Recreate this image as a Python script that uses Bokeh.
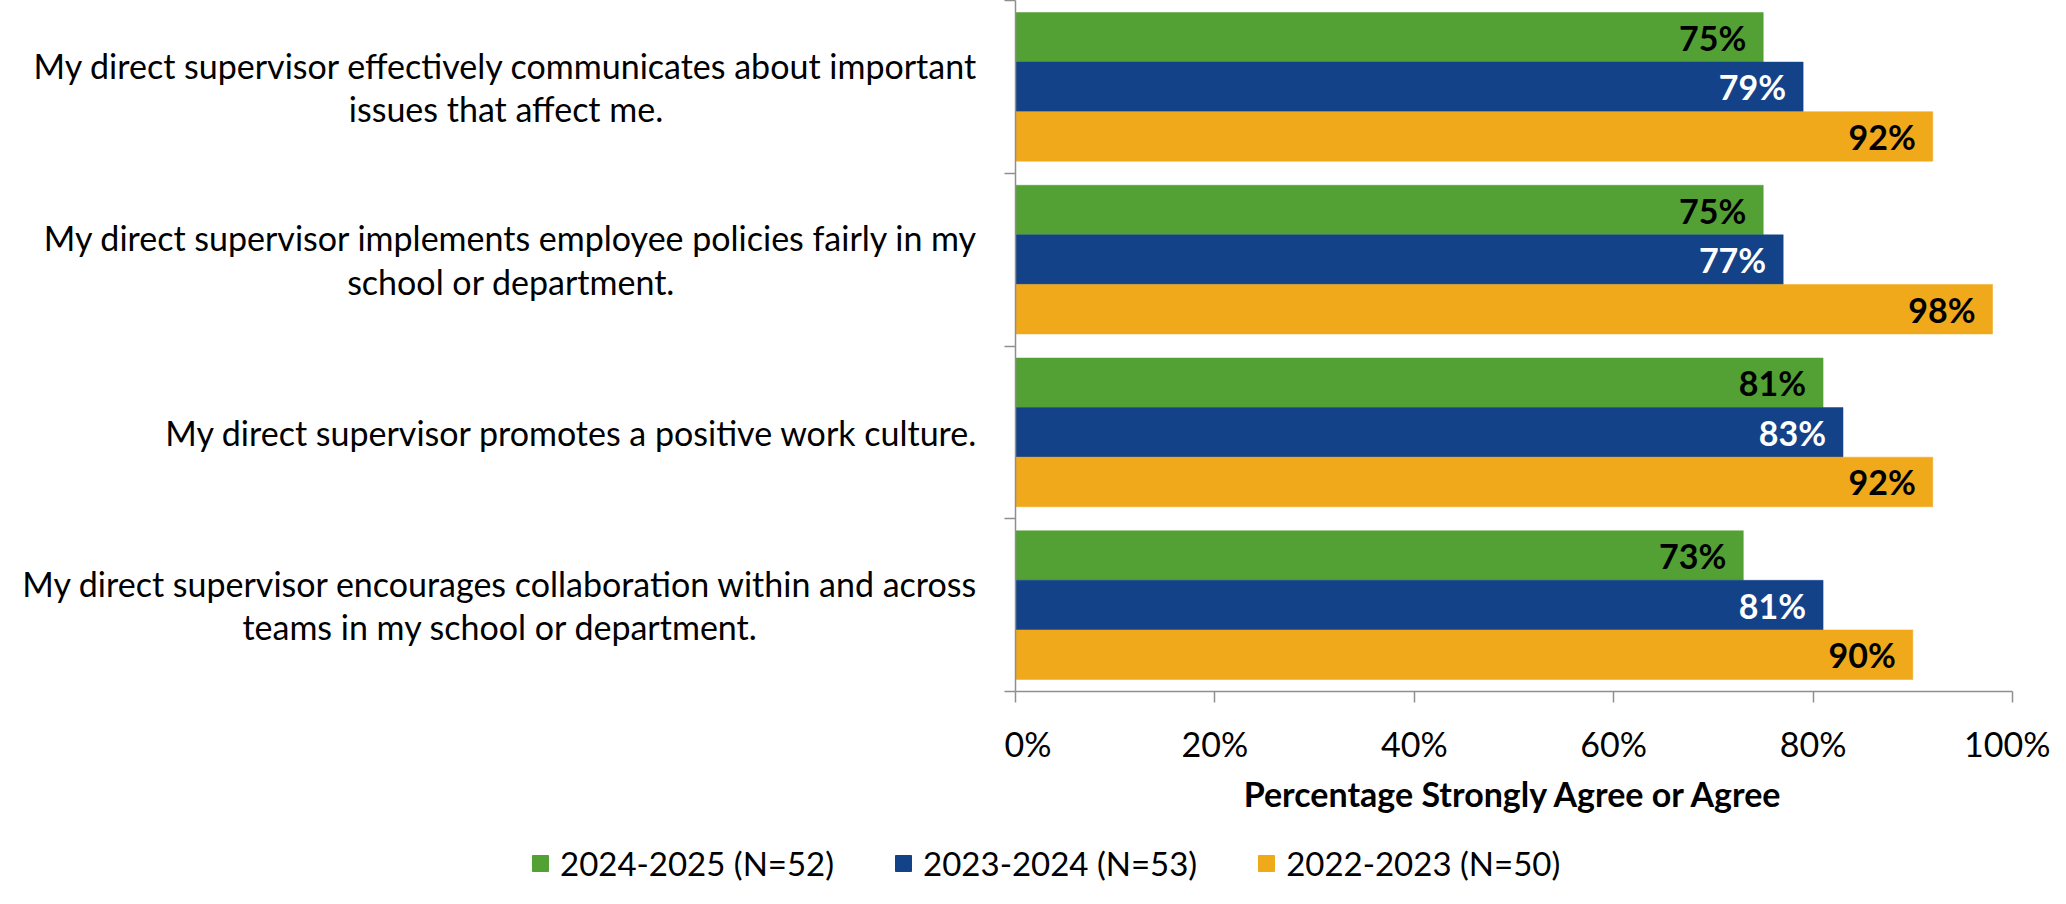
from bokeh.plotting import figure
from bokeh.layouts import row, column
from bokeh.models import (Range1d, FixedTicker, PrintfTickFormatter, Legend,
                          LegendItem, ColumnDataSource)
from bokeh.core.properties import value
from bokeh.embed import file_html
from bokeh.resources import INLINE

# ---- data ----
categories = [
    "My direct supervisor effectively communicates about important\nissues that affect me.",
    "My direct supervisor implements employee policies fairly in my\nschool or department.",
    "My direct supervisor promotes a positive work culture.",
    "My direct supervisor encourages collaboration within and across\nteams in my school or department.",
]
series_names = ["2024-2025 (N=52)", "2023-2024 (N=53)", "2022-2023 (N=50)"]
v_2024_2025 = [75, 75, 81, 73]
v_2023_2024 = [79, 77, 83, 81]
v_2022_2023 = [92, 98, 92, 90]
x_ticks = [0, 20, 40, 60, 80, 100]
axis_title = "Percentage Strongly Agree or Agree"

colors = ["#53A035", "#134289", "#F0A91B"]
label_colors = ["#000000", "#FFFFFF", "#000000"]
series_values = [v_2024_2025, v_2023_2024, v_2022_2023]

FONT = "Lato"
n = len(categories)
bar_h = 0.287
offsets = [bar_h, 0.0, -bar_h]

TOP_H = 828
BOTTOM_BORDER = 137
LEFT_W = 1004

y_range = Range1d(0, n)
centers = [n - i - 0.5 for i in range(n)]

# ---- main plot ----
p = figure(width=2050 - LEFT_W, height=TOP_H, output_backend="svg", toolbar_location=None,
           x_range=Range1d(0, 100), y_range=y_range,
           min_border_left=0, min_border_right=38, min_border_top=0,
           min_border_bottom=BOTTOM_BORDER)
p.outline_line_color = None
p.xgrid.visible = False
p.ygrid.visible = False

for name, vals, col, lcol, off in zip(series_names, series_values, colors, label_colors, offsets):
    src = ColumnDataSource(dict(
        y=[c + off for c in centers],
        v=vals,
        lab=[f"{v}%" for v in vals],
    ))
    p.hbar(y="y", right="v", left=0, height=bar_h, source=src,
           fill_color=col, line_color=col, line_width=0.5)
    p.text(x="v", y="y", text="lab", source=src, x_offset=-17,
           text_align="right", text_baseline="middle",
           text_font=value(FONT), text_font_style="bold", text_font_size="34px",
           text_color=lcol)

ax_col = "#8f8f8f"
p.xaxis.ticker = FixedTicker(ticks=x_ticks)
p.xaxis.formatter = PrintfTickFormatter(format="%d%%")
p.xaxis.axis_line_color = ax_col
p.xaxis.axis_line_width = 1.5
p.xaxis.major_tick_line_color = ax_col
p.xaxis.major_tick_line_width = 1.5
p.xaxis.major_tick_out = 11
p.xaxis.major_tick_in = 0
p.xaxis.minor_tick_line_color = None
p.xaxis.major_label_text_font = FONT
p.xaxis.major_label_text_font_size = "34px"
p.xaxis.major_label_text_color = "#000000"
p.xaxis.major_label_standoff = 20
p.xaxis.axis_label = axis_title
p.xaxis.axis_label_text_font = FONT
p.xaxis.axis_label_text_font_size = "34px"
p.xaxis.axis_label_text_font_style = "bold"
p.xaxis.axis_label_text_color = "#000000"
p.xaxis.axis_label_standoff = 6

p.yaxis.ticker = FixedTicker(ticks=list(range(n + 1)))
p.yaxis.major_label_overrides = {i: "" for i in range(n + 1)}
p.yaxis.axis_line_color = ax_col
p.yaxis.axis_line_width = 1.5
p.yaxis.major_tick_line_color = ax_col
p.yaxis.major_tick_line_width = 1.5
p.yaxis.major_tick_out = 11
p.yaxis.major_tick_in = 0
p.yaxis.minor_tick_line_color = None
p.yaxis.major_label_standoff = 0

# ---- category labels (left panel, shares y range) ----
lp = figure(width=LEFT_W, height=TOP_H, output_backend="svg", toolbar_location=None,
            x_range=Range1d(0, 1), y_range=y_range,
            x_axis_location=None, y_axis_location=None,
            min_border_left=0, min_border_right=0, min_border_top=0,
            min_border_bottom=BOTTOM_BORDER)
lp.outline_line_color = None
lp.xgrid.visible = False
lp.ygrid.visible = False
csrc = ColumnDataSource(dict(x=[1] * n, y=centers, t=categories))
lp.text(x="x", y="y", text="t", source=csrc, x_offset=-26, anchor="center_right",
        text_align="center", text_baseline="middle",
        text_font=value(FONT), text_font_size="34px", text_color="#000000",
        text_line_height=1.06)

# ---- legend strip ----
lg = figure(width=2050, height=888 - TOP_H, output_backend="svg", toolbar_location=None,
            x_range=Range1d(0, 1), y_range=Range1d(0, 1),
            x_axis_location=None, y_axis_location=None,
            min_border_left=0, min_border_right=0, min_border_top=0, min_border_bottom=0)
lg.outline_line_color = None
lg.xgrid.visible = False
lg.ygrid.visible = False
items = []
for name, col in zip(series_names, colors):
    # swatch renderer kept outside the visible strip; only its legend glyph shows
    r = lg.hbar(y=[-5], right=[1], left=0, height=0.5, fill_color=col, line_color=col)
    items.append(LegendItem(label=name, renderers=[r]))
legend = Legend(items=items, orientation="horizontal", location=(530, 5),
                glyph_width=20, glyph_height=20, label_standoff=10, spacing=59,
                padding=0, margin=0, border_line_color=None, background_fill_alpha=0,
                label_text_font=FONT, label_text_font_size="33px", label_text_color="#000000")
lg.add_layout(legend, "center")

layout = column(row(lp, p, spacing=0), lg, spacing=0)
open("out.html", "w").write(file_html(layout, INLINE))
